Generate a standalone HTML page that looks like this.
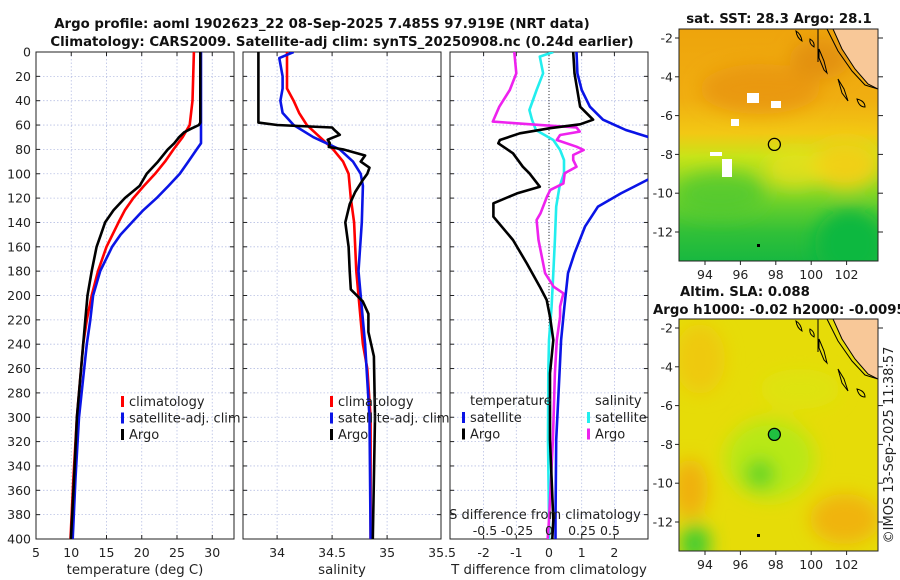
<!DOCTYPE html>
<html><head><meta charset="utf-8"><style>
html,body{margin:0;padding:0;background:#fff;width:900px;height:580px;overflow:hidden}
svg{display:block;font-family:"DejaVu Sans","Liberation Sans",sans-serif}
</style></head><body>
<svg id="fig" width="900" height="580" viewBox="0 0 900 580" xmlns="http://www.w3.org/2000/svg">
<defs>
<clipPath id="cp1"><rect x="36" y="52" width="198" height="487"/></clipPath>
<clipPath id="cp2"><rect x="243" y="52" width="198" height="487"/></clipPath>
<clipPath id="cp3"><rect x="450" y="52" width="198" height="487"/></clipPath>
<clipPath id="cm1"><rect x="679" y="29" width="199" height="232"/></clipPath>
<clipPath id="cm2"><rect x="679" y="319" width="199" height="232"/></clipPath>
<filter id="bl" x="-50%" y="-50%" width="200%" height="200%"><feGaussianBlur stdDeviation="9"/></filter>
<linearGradient id="sstg" x1="0" y1="0" x2="0" y2="1">
<stop offset="0" stop-color="#eea40c"/><stop offset="0.3" stop-color="#f0ae10"/>
<stop offset="0.45" stop-color="#f2c814"/><stop offset="0.55" stop-color="#c8e418"/>
<stop offset="0.72" stop-color="#78d428"/><stop offset="0.88" stop-color="#30c038"/><stop offset="1" stop-color="#18b840"/>
</linearGradient>
</defs>
<g id="titles" font-weight="bold" font-size="13.3" fill="#111" text-anchor="middle">
<text x="322" y="28">Argo profile: aoml 1902623_22 08-Sep-2025 7.485S 97.919E (NRT data)</text>
<text x="342" y="46">Climatology: CARS2009. Satellite-adj clim: synTS_20250908.nc (0.24d earlier)</text>
</g>
<g id="panels"></g>
<g id="maps"></g>
<text x="898" y="450" font-size="13" fill="#222" text-anchor="middle" transform="rotate(-90 893 450)">©IMOS 13-Sep-2025 11:38:57</text>
</svg>
<script>
// ---------- data ----------
const depthTicks = [0,20,40,60,80,100,120,140,160,180,200,220,240,260,280,300,320,340,360,380,400];
const tempTicks = [5,10,15,20,25,30];
const salTicks = [34,34.5,35,35.5];
const salTickLabels = ["34","34.5","35","35.5"];
const tdiffTicks = [-2,-1,0,1,2];
const tdiffTickLabels = ["-2","-1","0","1","2"];
const sdiffTicks = [-0.5,-0.25,0,0.25,0.5];
const sdiffTickLabels = ["-0.5","-0.25","0","0.25","0.5"];

const argoTDepth = [0,58,60,63,66,70,75,80,90,100,110,120,130,140,150,160,180,200,220,240,300,350,400];
const argoT = [28.3,28.3,28.1,27.0,26.0,25.3,24.6,23.7,22.3,20.7,19.7,17.6,16.0,14.8,14.2,13.6,12.9,12.3,12.0,11.7,10.8,10.4,9.95];
const climTDepth = [0,20,40,60,70,80,90,100,110,120,130,140,160,180,200,220,240,300,350,400];
const climT = [27.4,27.3,27.2,26.8,25.8,24.5,23.3,21.9,20.3,18.8,17.6,16.7,15.0,13.8,12.9,12.2,11.7,10.8,10.3,9.9];
const satTDepth = [0,75,80,90,100,110,120,130,140,150,160,180,200,220,240,300,350,400];
const satT = [28.4,28.4,27.8,26.6,25.4,23.8,22.1,20.2,18.6,17.0,15.8,14.1,13.1,12.7,12.2,11.1,10.6,10.2];

const argoSDepth = [0,58,60,62,64,68,72,75,78,80,85,90,95,100,105,115,125,140,160,180,195,205,215,230,250,300,350,400];
const argoS = [33.83,33.83,34.0,34.5,34.52,34.57,34.46,34.48,34.47,34.6,34.8,34.76,34.84,34.82,34.78,34.71,34.66,34.62,34.65,34.66,34.67,34.78,34.83,34.83,34.88,34.89,34.88,34.87];
const climSDepth = [0,30,40,50,60,70,80,90,100,120,140,160,180,200,220,240,260,300,400];
const climS = [34.09,34.09,34.15,34.2,34.27,34.39,34.51,34.6,34.65,34.67,34.7,34.71,34.72,34.74,34.76,34.78,34.82,34.85,34.85];
const satSDepth = [0,5,20,30,40,50,60,70,80,90,100,110,140,180,200,240,300,400];
const satS = [34.15,34.02,34.05,34.05,34.03,34.05,34.15,34.33,34.57,34.69,34.76,34.78,34.77,34.74,34.76,34.8,34.84,34.85];

const argoDTDepth = [0,17.5,44.9,55.6,59.4,62.6,66.8,72.3,75,83.2,94.2,99.6,110.6,116.1,124.3,135.3,154.4,173.6,192.8,203.7,217.4,236.6,263.9,318.6,384.3,400];
const argoDT = [0.74,0.78,0.95,1.35,0.95,0.03,-0.89,-1.5,-1.55,-1.1,-0.8,-0.6,-0.28,-0.98,-1.7,-1.7,-1.1,-0.68,-0.28,-0.07,0.03,0.13,0.03,0.03,0.13,0.1];
const satDTDepth = [0,17.5,31.2,44.9,55.6,64.1,69.5,85,95,105.1,116.1,127,143.4,165.3,181.7,209,236.6,263.9,318.6,384.3,400];
const satDT = [0.84,0.87,1.0,1.25,1.65,2.35,3.0,4.2,3.8,3.0,2.2,1.5,1.1,0.78,0.58,0.47,0.37,0.32,0.22,0.2,0.2];
const satDSDepth = [0,3.8,17.5,31.2,47.6,55.6,64.1,72.3,80.5,88.7,99.6,110.6,127,154.4,181.7,209,236.6,263.9,318.6,384.3,400];
const satDS = [0.033,-0.07,-0.045,-0.095,-0.15,-0.13,-0.1,0.033,0.085,0.115,0.115,0.08,0.055,0.045,0.033,0.02,0.0,-0.005,-0.008,0.0,0.0];
const argoDSDepth = [0,17.5,31.2,44.9,57.2,59.9,61.9,65.4,68.2,72.3,77.8,80.5,84.6,88.7,94.2,99.6,107.9,113.3,118.8,132.5,138,154.4,181.7,192.8,198.2,209,217.4,236.6,263.9,318.6,384.3,400];
const argoDS = [-0.265,-0.25,-0.3,-0.38,-0.43,-0.075,0.21,0.235,0.085,0.06,0.21,0.265,0.185,0.185,0.21,0.12,0.11,0.01,-0.015,-0.065,-0.095,-0.08,-0.03,0.035,0.11,0.085,0.085,0.06,0.045,0.03,0.0,-0.01];

const latTicks = [-2,-4,-6,-8,-10,-12];
const lonTicks = [94,96,98,100,102];
const argoLon = 97.919, argoLat = -7.485;

// ---------- scales ----------
const Y0 = 52, Y1 = 539;
const yD = d => Y0 + d*(Y1-Y0)/400;
const xT = t => 36 + (t-5)*7.05;
const xS = s => 243 + (s-33.69)*110;
const xDT = v => 549 + v*32.7;
const xDS = v => 549 + v*130.8;

const NS = "http://www.w3.org/2000/svg";
function mk(tag, attrs, parent){ const e=document.createElementNS(NS,tag); for(const k in attrs) e.setAttribute(k,attrs[k]); parent.appendChild(e); return e; }
const P = document.getElementById('panels');

function panelFrame(x0, name, xTicks, xf, labels, xlabel, showY){
  const g = mk('g',{},P);
  
  
  const w = 198;
  depthTicks.forEach(d=>{
    const y=yD(d);
    if(d>0&&d<400){ const gl=mk('line',{x1:x0,x2:x0+w,y1:y,y2:y,stroke:'#b8c0e4','stroke-width':0.8,'stroke-dasharray':'1.5,2'},g);
        }
    mk('line',{x1:x0,x2:x0+4,y1:y,y2:y,stroke:'#222'},g);
    mk('line',{x1:x0+w-4,x2:x0+w,y1:y,y2:y,stroke:'#222'},g);
    if(showY){ const t=mk('text',{x:x0-5,y:y+4.5,'font-size':12.5,'text-anchor':'end',fill:'#222'},g); t.textContent=d;
        }
  });
  xTicks.forEach((v,i)=>{
    const x=xf(v);
    if(x>x0+1&&x<x0+w-1){ mk('line',{x1:x,x2:x,y1:Y0,y2:Y1,stroke:'#b8c0e4','stroke-width':0.8,'stroke-dasharray':'1.5,2'},g);
      mk('line',{x1:x,x2:x,y1:Y1,y2:Y1-4,stroke:'#222'},g); mk('line',{x1:x,x2:x,y1:Y0,y2:Y0+4,stroke:'#222'},g); }
    const t=mk('text',{x:x,y:557,'font-size':12.5,'text-anchor':'middle',fill:'#222'},g); t.textContent=labels[i];
     
  });
  mk('rect',{x:x0,y:Y0,width:w,height:Y1-Y0,fill:'none',stroke:'#222','stroke-width':1},g);
  const xl=mk('text',{x:x0+w/2,y:574,'font-size':13.3,'text-anchor':'middle',fill:'#222'},g); xl.textContent=xlabel;
   
  return g;
}
function series(g, depths, vals, xf, color, clip, name){
  const pts = depths.map((d,i)=>xf(vals[i]).toFixed(1)+','+yD(d).toFixed(1)).join(' ');
  const pl = mk('polyline',{points:pts,fill:'none',stroke:color,'stroke-width':2.6,'stroke-linejoin':'round','clip-path':'url(#'+clip+')'},g);
  
  
}
function legend(g, x, y0, items){
  items.forEach((it,i)=>{
    const y=y0+i*16.5;
    mk('rect',{x:x,y:y-10,width:3,height:11,fill:it[1]},g);
    const t=mk('text',{x:x+8,y:y,'font-size':13,fill:'#222'},g); t.textContent=it[0];
     
  });
}

const g1 = panelFrame(36,'temperature-panel',tempTicks,xT,tempTicks.map(String),'temperature (deg C)',true);
series(g1, climTDepth, climT, xT, '#f00', 'cp1', 'climatology-temperature-line');
series(g1, satTDepth, satT, xT, '#0a14e6', 'cp1', 'satellite-temperature-line');
series(g1, argoTDepth, argoT, xT, '#000', 'cp1', 'argo-temperature-line');
legend(g1, 121, 406, [['climatology','#f00'],['satellite-adj. clim','#0a14e6'],['Argo','#000']]);

const g2 = panelFrame(243,'salinity-panel',salTicks,xS,salTickLabels,'salinity',false);
series(g2, climSDepth, climS, xS, '#f00', 'cp2', 'climatology-salinity-line');
series(g2, satSDepth, satS, xS, '#0a14e6', 'cp2', 'satellite-salinity-line');
series(g2, argoSDepth, argoS, xS, '#000', 'cp2', 'argo-salinity-line');
legend(g2, 330, 406, [['climatology','#f00'],['satellite-adj. clim','#0a14e6'],['Argo','#000']]);

const g3 = panelFrame(450,'difference-panel',tdiffTicks,xDT,tdiffTickLabels,'T difference from climatology',false);
mk('line',{x1:549,x2:549,y1:Y0,y2:Y1,stroke:'#333','stroke-width':1,'stroke-dasharray':'1,2'},g3);
series(g3, satDSDepth, satDS, xDS, '#22eeee', 'cp3', 'satellite-salinity-diff-line');
series(g3, argoDSDepth, argoDS, xDS, '#ee22ee', 'cp3', 'argo-salinity-diff-line');
series(g3, satDTDepth, satDT, xDT, '#0a14e6', 'cp3', 'satellite-temperature-diff-line');
series(g3, argoDTDepth, argoDT, xDT, '#000', 'cp3', 'argo-temperature-diff-line');
{ const t=mk('text',{x:470,y:405,'font-size':13,fill:'#222'},g3); t.textContent='temperature';
   
  const t2=mk('text',{x:595,y:405,'font-size':13,fill:'#222'},g3); t2.textContent='salinity';
    }
legend(g3, 462, 422, [['satellite','#0a14e6'],['Argo','#000']]);
legend(g3, 587, 422, [['satellite','#22eeee'],['Argo','#ee22ee']]);
{ const t=mk('text',{x:545,y:519,'font-size':13,'text-anchor':'middle',fill:'#222'},g3); t.textContent='S difference from climatology';
   
  const sx=[485,517,549,582,610];
  sdiffTicks.forEach((v,i)=>{ const l=mk('text',{x:sx[i],y:535,'font-size':12.5,'text-anchor':'middle',fill:'#222'},g3); l.textContent=sdiffTickLabels[i];
      }); }

// ---------- maps ----------
const M = document.getElementById('maps');
function mapPanel(top, kind){
  const g = mk('g',{},M);
  
  
  const lx = lon => 705 + (lon-94)*17.7;
  const ly = lat => top+9 + (-2-lat)*19.4;
  const clip = kind==='sst'?'cm1':'cm2';
  const inner = mk('g',{'clip-path':'url(#'+clip+')'},g);
  if(kind==='sst'){
    mk('rect',{x:679,y:top,width:199,height:232,fill:'url(#sstg)'},inner);
    const b = mk('g',{filter:'url(#bl)'},inner);
    mk('ellipse',{cx:760,cy:top+60,rx:60,ry:25,fill:'#e8940c',opacity:0.8},b);
    mk('ellipse',{cx:820,cy:top+30,rx:30,ry:20,fill:'#e08c10',opacity:0.8},b);
    mk('ellipse',{cx:845,cy:top+135,rx:35,ry:25,fill:'#f0d018'},b);
    mk('ellipse',{cx:720,cy:top+165,rx:45,ry:22,fill:'#50c830',opacity:0.8},b);
    mk('ellipse',{cx:850,cy:top+215,rx:35,ry:35,fill:'#10b840'},b);
    mk('ellipse',{cx:795,cy:top+140,rx:30,ry:20,fill:'#f0e020',opacity:0.7},b);
    [[747,top+64,12,10],[771,top+72,10,7],[731,top+90,8,7],[710,top+123,12,4],[722,top+130,10,18]].forEach(r=>mk('rect',{x:r[0],y:r[1],width:r[2],height:r[3],fill:'#fff'},inner));
  } else {
    mk('rect',{x:679,y:top,width:199,height:232,fill:'#e6dc08'},inner);
    const b = mk('g',{filter:'url(#bl)'},inner);
    mk('ellipse',{cx:770,cy:top+140,rx:45,ry:40,fill:'#b8e818'},b);
    mk('ellipse',{cx:760,cy:top+155,rx:15,ry:15,fill:'#60d428'},b);
    mk('ellipse',{cx:700,cy:top+40,rx:25,ry:35,fill:'#f0c410',opacity:0.8},b);
    mk('ellipse',{cx:690,cy:top+170,rx:18,ry:30,fill:'#f0b010'},b);
    mk('ellipse',{cx:845,cy:top+200,rx:35,ry:25,fill:'#f0b410'},b);
    mk('ellipse',{cx:695,cy:top+225,rx:15,ry:20,fill:'#40cc30'},b);
    mk('ellipse',{cx:800,cy:top+70,rx:40,ry:20,fill:'#d8e818',opacity:0.6},b);
  }
  const land = mk('polygon',{points:`833,${top} 878,${top} 878,${top+60} 868,${top+55} 855,${top+40} 842,${top+20}`,fill:'#f8c898',stroke:'#000','stroke-width':1},inner);
   
  mk('polyline',{points:`827,${top} 838,${top+22} 852,${top+42} 865,${top+56} 878,${top+60}`,fill:'none',stroke:'#000','stroke-width':1},inner);
  mk('polyline',{points:`818,${top} 818,${top+33}`,fill:'none',stroke:'#000','stroke-width':1},inner);
  mk('path',{d:`M819,${top+20} l5,12 l3,12 l-3,-3 l-5,-12 z M838,${top+50} l6,10 l4,12 l-6,-8 z M857,${top+70} q8,2 8,8 q-6,0 -8,-8 z M796,${top+2} q5,3 6,10 q-5,-3 -6,-10 z M810,${top+10} q5,3 4,8 q-5,-3 -4,-8z`,fill:'none',stroke:'#000','stroke-width':1},inner);
  mk('rect',{x:757,y:top+215,width:3,height:3,fill:'#000'},inner);
  const c = mk('circle',{cx:lx(argoLon),cy:ly(argoLat),r:6,fill:kind==='sst'?'none':'#20c040',stroke:'#000','stroke-width':1.3},g);
   
  mk('rect',{x:679,y:top,width:199,height:232,fill:'none',stroke:'#222','stroke-width':1},g);
  latTicks.forEach(v=>{ const y=ly(v); mk('line',{x1:878,x2:883,y1:y,y2:y,stroke:'#222'},g); mk('line',{x1:679,x2:675,y1:y,y2:y,stroke:'#222'},g);
    const t=mk('text',{x:673,y:y+4.5,'font-size':12.5,'text-anchor':'end',fill:'#222'},g); t.textContent=v;
      });
  lonTicks.forEach(v=>{ const x=lx(v); mk('line',{x1:x,x2:x,y1:top+232,y2:top+236,stroke:'#222'},g);
    const t=mk('text',{x:x,y:top+250,'font-size':12.5,'text-anchor':'middle',fill:'#222'},g); t.textContent=v;
      });
}
mapPanel(29,'sst');
mapPanel(319,'sla');
{ const t=mk('text',{x:779,y:23,'font-size':13.3,'font-weight':'bold','text-anchor':'middle',fill:'#111'},M); t.textContent='sat. SST: 28.3 Argo: 28.1';
   
  const t2=mk('text',{x:680,y:296,'font-size':13.3,'font-weight':'bold',fill:'#111'},M); t2.textContent='Altim. SLA: 0.088';
   
  const t3=mk('text',{x:653,y:314,'font-size':13.3,'font-weight':'bold',fill:'#111'},M); t3.textContent='Argo h1000: -0.02 h2000: -0.0095';
    }
</script>
</body></html>
